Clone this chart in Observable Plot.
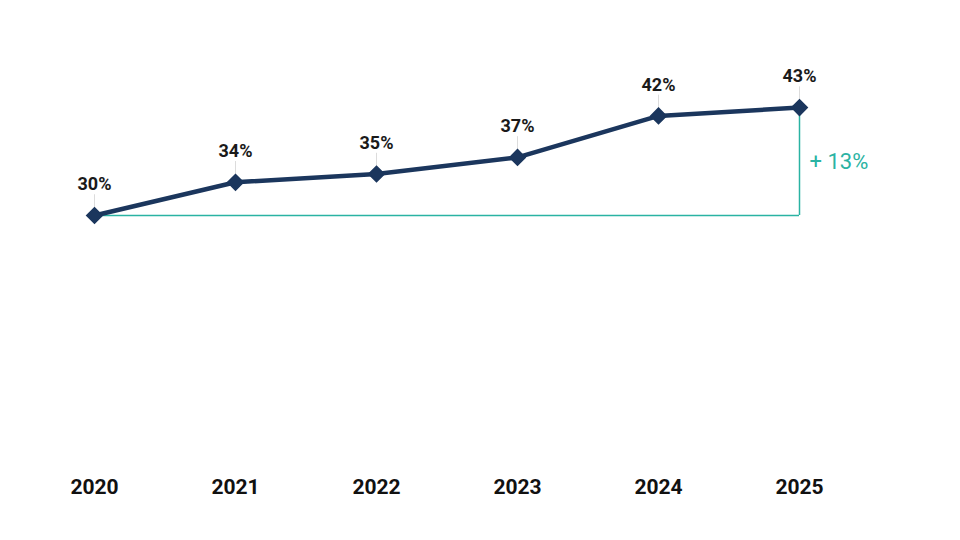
<!DOCTYPE html>
<html>
<head>
<meta charset="utf-8">
<script src="https://cdn.jsdelivr.net/npm/d3@7"></script>
<script src="https://cdn.jsdelivr.net/npm/@observablehq/plot@0.6"></script>
<style>
  html, body { margin: 0; padding: 0; background: #fff; }
  svg { font-family: Roboto, "Noto Sans", sans-serif; }
</style>
</head>
<body>
<div id="chart"></div>
<script>
const years = [2020, 2021, 2022, 2023, 2024, 2025];
const shares = [30, 34, 35, 37, 42, 43];
const valueLabels = ["30%", "34%", "35%", "37%", "42%", "43%"];
const changeLabel = "+ 13%";

const data = years.map((y, i) => ({year: y, v: shares[i], label: valueLabels[i]}));
const first = data[0], last = data[data.length - 1];

const navy = "#1b365d";
const teal = "#2ab3a3";

const chart = Plot.plot({
  width: 960,
  height: 540,
  marginLeft: 94,
  marginRight: 161,
  marginTop: 49,
  marginBottom: 76,
  x: {type: "point", domain: years, padding: 0, tickFormat: d => String(d)},
  y: {domain: [0, 50], axis: null},
  marks: [
    Plot.axisX({tickSize: 0, tickPadding: 15, fontSize: 21, fontWeight: "bold", fill: "#111", label: null, tickFormat: d => String(d)}),
    // leader lines
    Plot.ruleX(data, {x: "year", y1: d => d.v + 0.8, y2: d => d.v + 2.5, stroke: "#dcdcdc", strokeWidth: 1}),
    // baseline & difference bracket
    Plot.ruleY([first], {x1: first.year, x2: last.year, y: "v", stroke: teal, strokeWidth: 1.5}),
    Plot.ruleX([last], {x: "year", y1: first.v, y2: last.v, stroke: teal, strokeWidth: 1.5}),
    Plot.line(data, {x: "year", y: "v", stroke: navy, strokeWidth: 4.5, strokeLinejoin: "round"}),
    Plot.dot(data, {x: "year", y: "v", symbol: "diamond2", r: 7, fill: navy, stroke: navy}),
    Plot.text(data, {x: "year", y: "v", text: "label", dy: -31, fontSize: 18, fontWeight: "bold", fill: "#1a1a1a"}),
    Plot.text([last], {x: "year", y: d => (first.v + last.v) / 2, text: () => changeLabel, dx: 10, textAnchor: "start", fontSize: 22, fill: teal})
  ]
});
document.getElementById("chart").append(chart);
</script>
</body>
</html>
